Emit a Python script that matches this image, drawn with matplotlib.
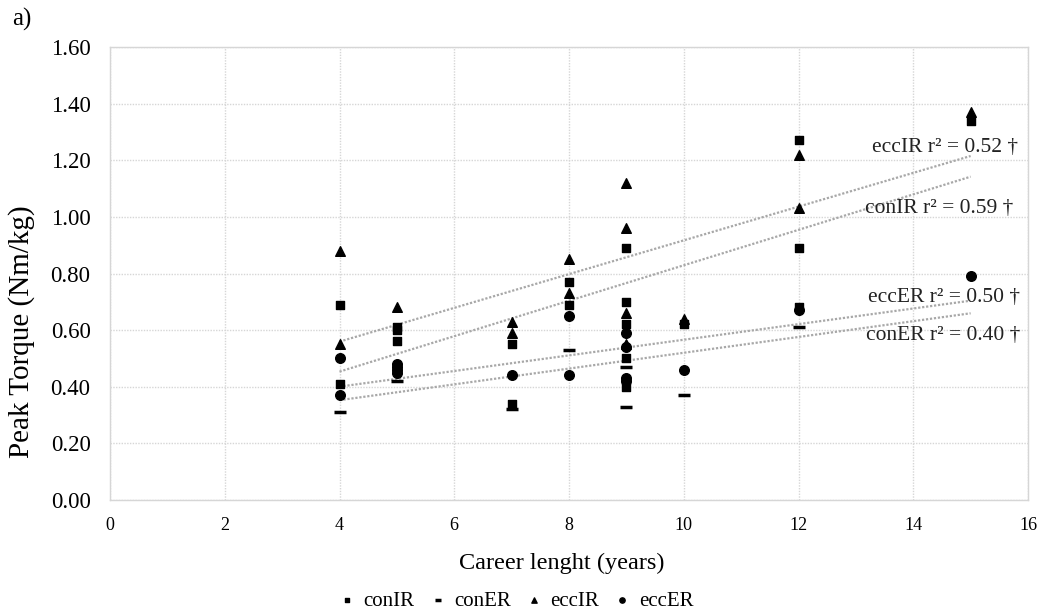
import matplotlib
matplotlib.use("Agg")
import matplotlib.pyplot as plt
import numpy as np

plt.rcParams['font.family'] = ['Liberation Serif', 'DejaVu Serif']

# career length (years) and peak torque (Nm/kg) per series
conIR_x = [4, 4, 5, 5, 5, 7, 7, 8, 8, 9, 9, 9, 9, 9, 10, 12, 12, 12, 15]
conIR_y = [0.69, 0.41, 0.61, 0.60, 0.56, 0.55, 0.34, 0.77, 0.69, 0.89, 0.70, 0.62, 0.50, 0.40, 0.62, 1.27, 0.89, 0.68, 1.34]

conER_x = [4, 5, 7, 8, 9, 9, 10, 12]
conER_y = [0.31, 0.42, 0.32, 0.53, 0.47, 0.33, 0.37, 0.61]

eccIR_x = [4, 4, 5, 7, 7, 8, 8, 9, 9, 9, 9, 10, 12, 12, 15]
eccIR_y = [0.88, 0.55, 0.68, 0.63, 0.59, 0.85, 0.73, 1.12, 0.96, 0.66, 0.55, 0.64, 1.22, 1.03, 1.37]

eccER_x = [4, 4, 5, 5, 5, 5, 7, 8, 8, 9, 9, 9, 9, 10, 12, 15]
eccER_y = [0.50, 0.37, 0.48, 0.47, 0.46, 0.45, 0.44, 0.65, 0.44, 0.59, 0.54, 0.43, 0.42, 0.46, 0.67, 0.79]

# linear trends: (slope, intercept), drawn from x=4 to x=15
trend_names = ['eccIR', 'conIR', 'eccER', 'conER']
trend_slope = [0.0596, 0.0626, 0.0276, 0.0279]
trend_icpt = [0.321, 0.203, 0.290, 0.241]
trend_r2 = ['0.52', '0.59', '0.50', '0.40']
label_pos = [(15.82, 1.245), (15.74, 1.03), (15.86, 0.715), (15.86, 0.58)]

fig = plt.figure(figsize=(10.37, 6.13), dpi=100)
ax = fig.add_axes([110/1037, 1 - 500/613, 918/1037, 453/613])

ax.set_xlim(0, 16)
ax.set_ylim(0, 1.6)
ax.set_xticks(np.arange(0, 17, 2))
ax.set_yticks(np.arange(0, 1.61, 0.2))
ax.set_yticklabels([f'{v:.2f}' for v in np.arange(0, 1.61, 0.2)], fontsize=16.5)
ax.tick_params(axis='x', labelsize=13, length=0, pad=12)
ax.tick_params(axis='y', length=0, pad=14)
ax.grid(True, color='#d6d6d6', linestyle=(0, (1, 1)), linewidth=1)
for s in ax.spines.values():
    s.set_color('#d6d6d6')
    s.set_linewidth(1)
ax.set_axisbelow(True)

xs = np.array([4, 15])
for m, b in zip(trend_slope, trend_icpt):
    ax.plot(xs, m * xs + b, color='#a8a8a8', linestyle=(0, (1, 0.8)), linewidth=1.6, zorder=2)

ax.scatter(conIR_x, conIR_y, marker='s', s=38, color='black', zorder=3, label='conIR')
ax.scatter(conER_x, conER_y, marker='_', s=70, linewidths=2.5, color='black', zorder=3, label='conER')
ax.scatter(eccIR_x, eccIR_y, marker='^', s=48, color='black', zorder=3, label='eccIR')
ax.scatter(eccER_x, eccER_y, marker='o', s=48, color='black', zorder=3, label='eccER')

for name, r2, (lx, ly) in zip(trend_names, trend_r2, label_pos):
    ax.text(lx, ly, f'{name} r² = {r2} †', fontsize=15.5, ha='right', va='center', color='#222222')

fig.text(562/1037, 1 - 563/613, 'Career lenght (years)', fontsize=17.5, ha='center', va='center')
fig.text(22/1037, 1 - 332/613, 'Peak Torque (Nm/kg)', fontsize=21, rotation=90,
         ha='center', va='center')

leg = fig.legend(loc='center', bbox_to_anchor=(516/1037, 1 - 601/613), ncol=4, frameon=False,
                 fontsize=15, markerscale=0.55, handlelength=0.8, handletextpad=0.4,
                 columnspacing=0.7)

fig.text(12/1037, 1 - 19/613, 'a)', fontsize=18, va='center')

fig.savefig('out.png', dpi=100)
